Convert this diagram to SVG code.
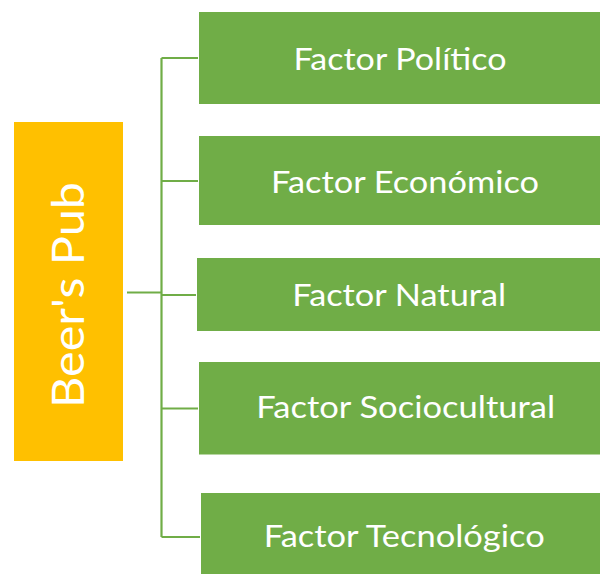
<svg xmlns="http://www.w3.org/2000/svg" width="600" height="574" viewBox="0 0 600 574">
  <style>
    .factor { fill: #70AD47; stroke: #FFFFFF; stroke-width: 1; }
    .root { fill: #FFC000; }
    .label { font-family: Lato, "Noto Sans", "DejaVu Sans", sans-serif; font-weight: 400; fill: #FFFFFF; text-anchor: middle; }
    .f-label { font-size: 30px; }
    .r-label { font-size: 45px; }
    .link { fill: none; stroke: #70AD47; stroke-width: 2.2; }
  </style>
  <rect width="600" height="574" fill="#FFFFFF"/>

  <!-- tree connectors -->
  <g id="connectors">
    <path class="link" d="M127 292.5 H161.5"/>
    <path class="link" d="M161.5 58 V537"/>
    <path class="link" d="M161.5 58 H198.5"/>
    <path class="link" d="M161.5 181 H198.5"/>
    <path class="link" d="M161.5 295 H196.5"/>
    <path class="link" d="M161.5 408.5 H198.5"/>
    <path class="link" d="M161.5 537 H200"/>
  </g>

  <!-- root node -->
  <g id="beers-pub">
    <rect class="root" x="14" y="122" width="109" height="339"/>
    <text class="label r-label" transform="translate(83.5 295) rotate(-90)" x="0" y="0" textLength="226" lengthAdjust="spacingAndGlyphs">Beer's Pub</text>
  </g>

  <!-- factor nodes -->
  <g id="factor-politico">
    <rect class="factor" x="198.5" y="11.5" width="402" height="93"/>
    <text class="label f-label" x="400" y="70" textLength="213" lengthAdjust="spacingAndGlyphs">Factor Político</text>
  </g>
  <g id="factor-economico">
    <rect class="factor" x="198.5" y="135.5" width="402" height="90"/>
    <text class="label f-label" x="405" y="192.5" textLength="268" lengthAdjust="spacingAndGlyphs">Factor Económico</text>
  </g>
  <g id="factor-natural">
    <rect class="factor" x="196.5" y="257.5" width="404" height="74"/>
    <text class="label f-label" x="399.2" y="305.7" textLength="214" lengthAdjust="spacingAndGlyphs">Factor Natural</text>
  </g>
  <g id="factor-sociocultural">
    <rect class="factor" x="198.5" y="361.5" width="402" height="93.5"/>
    <text class="label f-label" x="405.7" y="418.3" textLength="299" lengthAdjust="spacingAndGlyphs">Factor Sociocultural</text>
  </g>
  <g id="factor-tecnologico">
    <rect class="factor" x="200.5" y="492.5" width="400" height="84"/>
    <text class="label f-label" x="404.2" y="547.3" textLength="281" lengthAdjust="spacingAndGlyphs">Factor Tecnológico</text>
  </g>
</svg>
